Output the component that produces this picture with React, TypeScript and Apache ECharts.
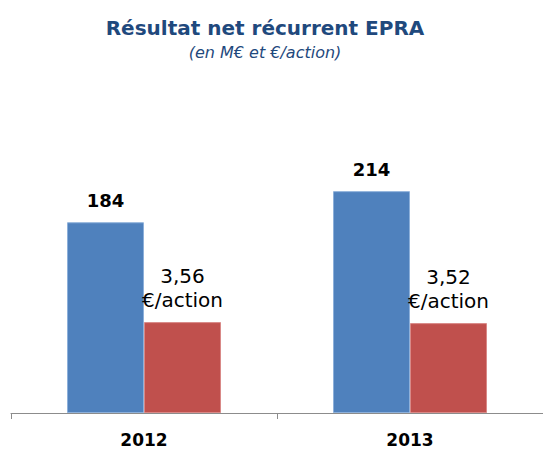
import React, { useEffect, useRef } from "react";
import * as echarts from "echarts";

const categories = ["2012", "2013"];
const netResult = [184, 214];
const perShare = [3.56, 3.52];
const titleText = "Résultat net récurrent EPRA";
const subtitleText = "(en M€ et €/action)";

export default function App() {
  const ref = useRef<HTMLDivElement>(null);
  useEffect(() => {
    if (!ref.current) return;
    const chart = echarts.init(ref.current, undefined, { renderer: "svg" });
    const font = "DejaVu Sans";
    chart.setOption({
      animation: false,
      backgroundColor: "#ffffff",
      graphic: [
        {
          type: "text",
          x: 265,
          y: 28,
          style: {
            text: titleText,
            fontFamily: font,
            fontWeight: "bold",
            fontSize: 20,
            fill: "#1F497D",
            textAlign: "center",
            textVerticalAlign: "middle",
          },
        },
        {
          type: "text",
          x: 265,
          y: 52,
          style: {
            text: subtitleText,
            fontFamily: font,
            fontStyle: "italic",
            fontSize: 16,
            fill: "#1F497D",
            textAlign: "center",
            textVerticalAlign: "middle",
          },
        },
      ],
      grid: { left: 11, width: 536, top: 102, bottom: 36, containLabel: false },
      xAxis: {
        type: "category",
        data: categories,
        axisLine: { lineStyle: { color: "#8c8c8c", width: 1 } },
        axisTick: { show: true, length: 6, lineStyle: { color: "#8c8c8c" } },
        axisLabel: {
          margin: 18,
          fontFamily: font,
          fontWeight: "bold",
          fontSize: 17,
          color: "#000000",
        },
      },
      yAxis: [
        { type: "value", min: 0, max: 300, show: false, splitLine: { show: false } },
        { type: "value", min: 0, max: 12.18, show: false, splitLine: { show: false } },
      ],
      series: [
        {
          type: "bar",
          yAxisIndex: 0,
          data: netResult,
          barWidth: 77,
          barGap: "0%",
          itemStyle: { color: "#4F81BD", borderColor: "#8DB0DA", borderWidth: 1 },
          label: {
            show: true,
            position: "top",
            distance: 13,
            fontFamily: font,
            fontWeight: "bold",
            fontSize: 18,
            color: "#000000",
          },
        },
        {
          type: "bar",
          yAxisIndex: 1,
          data: perShare,
          barWidth: 77,
          barGap: "0%",
          itemStyle: { color: "#C0504D", borderColor: "#D98987", borderWidth: 1 },
          label: {
            show: true,
            position: "top",
            distance: 10,
            fontFamily: font,
            fontSize: 20,
            lineHeight: 24,
            color: "#000000",
            formatter: (p: any) =>
              Number(p.value).toFixed(2).replace(".", ",") + "\n€/action",
          },
        },
      ],
    });
    return () => chart.dispose();
  }, []);
  return (
    <div
      ref={ref}
      style={{ position: "fixed", left: 0, top: 0, width: 543, height: 449 }}
    />
  );
}
